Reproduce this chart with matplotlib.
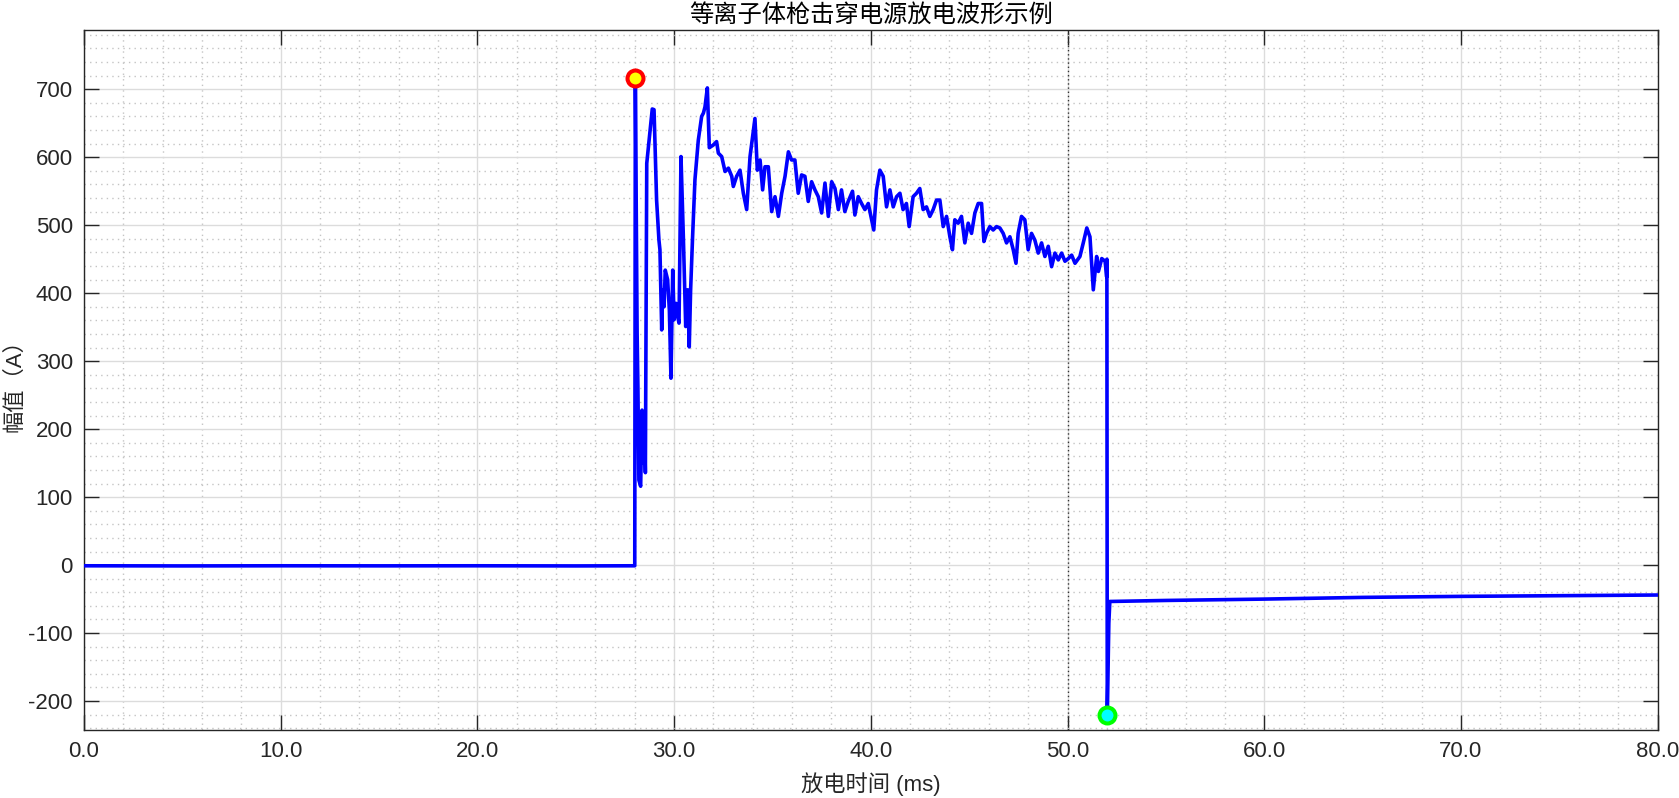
import matplotlib
matplotlib.use("Agg")
import matplotlib.pyplot as plt
from matplotlib.ticker import MultipleLocator
import numpy as np

# 放电波形: 各段读数 (ms, A)
base_t = [0.0, 5.0, 10.0, 15.0, 20.0, 25.0, 28.0]
base_a = [-1.0, -1.2, -1.0, -1.1, -1.0, -1.2, -1.0]

arc_t = [28.03, 28.12, 28.16, 28.21, 28.30, 28.37, 28.43, 28.48, 28.54, 28.61,
         28.78, 28.89, 28.98, 29.11, 29.23, 29.28, 29.37, 29.42, 29.49, 29.55,
         29.67, 29.76, 29.84, 29.93, 30.00, 30.10, 30.18, 30.25, 30.35, 30.47,
         30.59, 30.69, 30.77, 30.84, 30.94, 31.06, 31.23, 31.40, 31.49, 31.57,
         31.69, 31.79, 31.99, 32.16, 32.25, 32.42, 32.59, 32.76, 32.93, 33.01,
         33.18, 33.35, 33.52, 33.69, 33.86, 34.11, 34.23, 34.37, 34.50, 34.62,
         34.79, 34.96, 35.13, 35.30, 35.47, 35.64, 35.81, 35.97, 36.14, 36.31,
         36.48, 36.65, 36.82, 36.99, 37.16, 37.33, 37.50, 37.67, 37.84, 38.01,
         38.18, 38.35, 38.51, 38.68, 38.85, 39.07, 39.19, 39.36, 39.53, 39.70,
         39.87, 40.04, 40.15, 40.29, 40.46, 40.63, 40.80, 40.97, 41.14, 41.31,
         41.48, 41.64, 41.81, 41.95, 42.15, 42.32, 42.49, 42.66, 42.83, 43.00,
         43.17, 43.34, 43.51, 43.68, 43.85, 44.02, 44.15, 44.27, 44.44, 44.61,
         44.78, 44.95, 45.12, 45.29, 45.46, 45.63, 45.75, 45.88, 46.05, 46.22,
         46.39, 46.56, 46.73, 46.90, 47.07, 47.24, 47.38, 47.49, 47.66, 47.83,
         48.00, 48.17, 48.34, 48.51, 48.68, 48.85, 49.02, 49.19, 49.36, 49.53,
         49.70, 49.87, 50.04, 50.21, 50.38, 50.63, 50.80, 50.98, 51.14, 51.31,
         51.48, 51.57, 51.74, 51.91, 51.99, 52.00]
arc_a = [716, 342, 263, 125, 116, 228, 150, 219, 136, 591,
         640, 671, 670, 537, 478, 464, 346, 405, 380, 434,
         420, 375, 275, 434, 361, 385, 366, 356, 601, 483,
         351, 405, 321, 405, 483, 567, 625, 660, 665, 674,
         702, 614, 618, 623, 606, 601, 579, 584, 572, 557,
         572, 581, 547, 523, 601, 657, 581, 596, 552, 586,
         586, 520, 542, 513, 547, 572, 608, 596, 596, 547,
         574, 572, 535, 564, 552, 542, 518, 562, 513, 564,
         554, 523, 552, 520, 535, 550, 515, 542, 532, 523,
         532, 508, 493, 552, 581, 572, 527, 552, 527, 542,
         547, 523, 532, 498, 542, 547, 554, 523, 527, 513,
         523, 537, 537, 498, 513, 483, 464, 508, 503, 513,
         474, 503, 488, 518, 532, 532, 476, 488, 498, 493,
         498, 496, 488, 474, 483, 464, 444, 488, 513, 508,
         464, 488, 478, 459, 474, 454, 469, 439, 459, 449,
         459, 447, 451, 456, 444, 454, 474, 496, 483, 405,
         454, 432, 451, 447, 424, 450]

tail_t = [52.02, 52.10, 52.15, 55.0, 60.0, 65.0, 70.0, 75.0, 80.0]
tail_a = [-220, -85, -53.5, -52.0, -50.0, -47.5, -46.0, -45.0, -44.0]

peak_t, peak_a = 28.03, 716
valley_t, valley_a = 52.02, -220
cursor_ms = 50.0

x_ticks = [0, 10, 20, 30, 40, 50, 60, 70, 80]
y_ticks = [-200, -100, 0, 100, 200, 300, 400, 500, 600, 700]

t = np.array(base_t + arc_t + tail_t)
a = np.array(base_a + arc_a + tail_a)

latin_cjk = ['Liberation Sans', 'Noto Sans CJK SC', 'DejaVu Sans']
plt.rcParams['font.family'] = latin_cjk
plt.rcParams['axes.unicode_minus'] = False
txt = '#262626'

fig = plt.figure(figsize=(16.79, 7.98), dpi=100)
ax = fig.add_axes([0.0500, 0.0852, 0.9373, 0.8772])

ax.plot(t, a, color='#0000ff', lw=2.6, zorder=3)
ax.plot(peak_t, peak_a, 'o', ms=11.5, mfc='#ffff00', mec='#ff0000', mew=2.9, zorder=4)
ax.plot(valley_t, valley_a, 'o', ms=11.5, mfc='#00ffff', mec='#00ff00', mew=2.9, zorder=4)
ax.axvline(cursor_ms, color='#333333', ls=(0, (1, 2)), lw=1.0, zorder=2)

ax.set_xlim(0, 80)
ax.set_ylim(-242.6, 787.2)
ax.set_xticks(x_ticks)
ax.set_xticklabels([f'{v:.1f}' for v in x_ticks])
ax.set_yticks(y_ticks)
ax.xaxis.set_minor_locator(MultipleLocator(2))
ax.yaxis.set_minor_locator(MultipleLocator(20))

ax.grid(which='major', color='#dcdcdc', lw=1.0, ls='-', zorder=0)
ax.grid(which='minor', color='#c4c4c4', lw=1.0, ls=(0, (1, 3)), zorder=0)
ax.set_axisbelow(True)

ax.tick_params(which='major', direction='in', length=11, width=1.0,
               top=True, right=True, labelsize=16, colors=txt, pad=8)
ax.tick_params(which='minor', length=0, top=True, right=True)
for s in ax.spines.values():
    s.set_color(txt)
    s.set_linewidth(1.0)

ax.set_title('等离子体枪击穿电源放电波形示例', fontsize=17.5, color='#000000', pad=5)
ax.set_xlabel('放电时间 (ms)', fontsize=16, color=txt, labelpad=7)
ax.set_ylabel('幅值（A）', fontsize=16, color=txt, labelpad=2)

fig.savefig('out.png', dpi=100)
